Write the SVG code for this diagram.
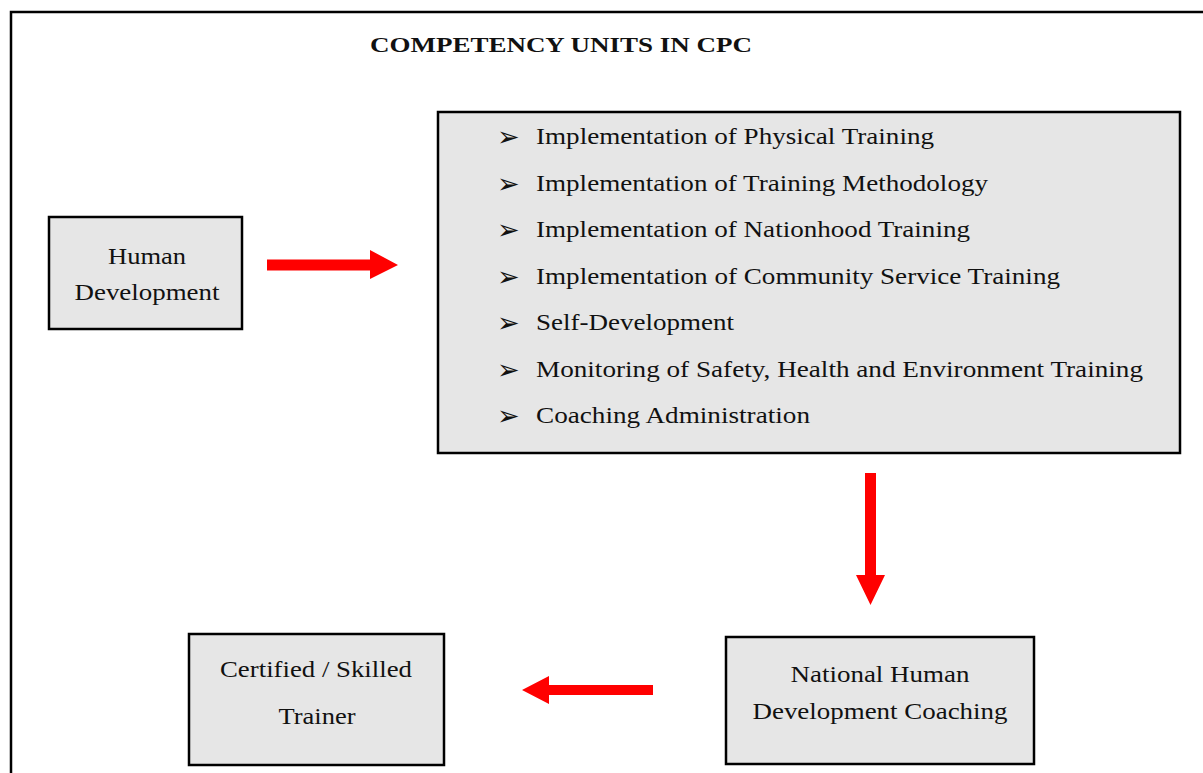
<svg xmlns="http://www.w3.org/2000/svg" width="1203" height="773" viewBox="0 0 1203 773">
<style>
.box{fill:#e6e6e6;stroke:#000;stroke-width:2.5}
.t{font-family:"Liberation Serif","Times New Roman",serif;font-size:24px;fill:#111}
.c{text-anchor:middle}
.b{font-family:"DejaVu Sans",sans-serif;font-size:27px;fill:#111}
.arr{fill:#ff0000}
</style>
<rect x="0" y="0" width="1203" height="773" fill="#fff"/>
<path d="M11 780 V12 H1210" fill="none" stroke="#000" stroke-width="2.5"/>
<text x="561" y="52" class="t c" style="font-weight:bold;font-size:22px" textLength="382" lengthAdjust="spacingAndGlyphs">COMPETENCY UNITS IN CPC</text>
<g id="human-development">
<rect class="box" x="49" y="217" width="193" height="112"/>
<text x="147" y="264" class="t c" textLength="78" lengthAdjust="spacingAndGlyphs">Human</text>
<text x="147" y="300" class="t c" textLength="145" lengthAdjust="spacingAndGlyphs">Development</text>
</g>
<g id="competency-units">
<rect class="box" x="438" y="112" width="742" height="341"/>
<g class="b">
<text x="497" y="146">➢</text>
<text x="497" y="193">➢</text>
<text x="497" y="239">➢</text>
<text x="497" y="286">➢</text>
<text x="497" y="332">➢</text>
<text x="497" y="379">➢</text>
<text x="497" y="425">➢</text>
</g>
<g class="t">
<text x="536" y="144" textLength="398" lengthAdjust="spacingAndGlyphs">Implementation of Physical Training</text>
<text x="536" y="191" textLength="452" lengthAdjust="spacingAndGlyphs">Implementation of Training Methodology</text>
<text x="536" y="237" textLength="434" lengthAdjust="spacingAndGlyphs">Implementation of Nationhood Training</text>
<text x="536" y="284" textLength="524" lengthAdjust="spacingAndGlyphs">Implementation of Community Service Training</text>
<text x="536" y="330" textLength="198" lengthAdjust="spacingAndGlyphs">Self-Development</text>
<text x="536" y="377" textLength="607" lengthAdjust="spacingAndGlyphs">Monitoring of Safety, Health and Environment Training</text>
<text x="536" y="423" textLength="274" lengthAdjust="spacingAndGlyphs">Coaching Administration</text>
</g>
</g>
<g id="national-coaching">
<rect class="box" x="726" y="637" width="308" height="127"/>
<text x="880" y="682" class="t c" textLength="179" lengthAdjust="spacingAndGlyphs">National Human</text>
<text x="880" y="719" class="t c" textLength="255" lengthAdjust="spacingAndGlyphs">Development Coaching</text>
</g>
<g id="certified-trainer">
<rect class="box" x="189" y="634" width="255" height="131"/>
<text x="316" y="677" class="t c" textLength="192" lengthAdjust="spacingAndGlyphs">Certified / Skilled</text>
<text x="317" y="724" class="t c" textLength="77" lengthAdjust="spacingAndGlyphs">Trainer</text>
</g>
<g id="connectors">
<polygon class="arr" points="267,259.5 370,259.5 370,250 398,265 370,279 370,270.5 267,270.5"/>
<polygon class="arr" points="865,473 876,473 876,575 885,575 870.5,605 856,575 865,575"/>
<polygon class="arr" points="653,685 549,685 549,676 522,690 549,704 549,695 653,695"/>
</g>
</svg>
